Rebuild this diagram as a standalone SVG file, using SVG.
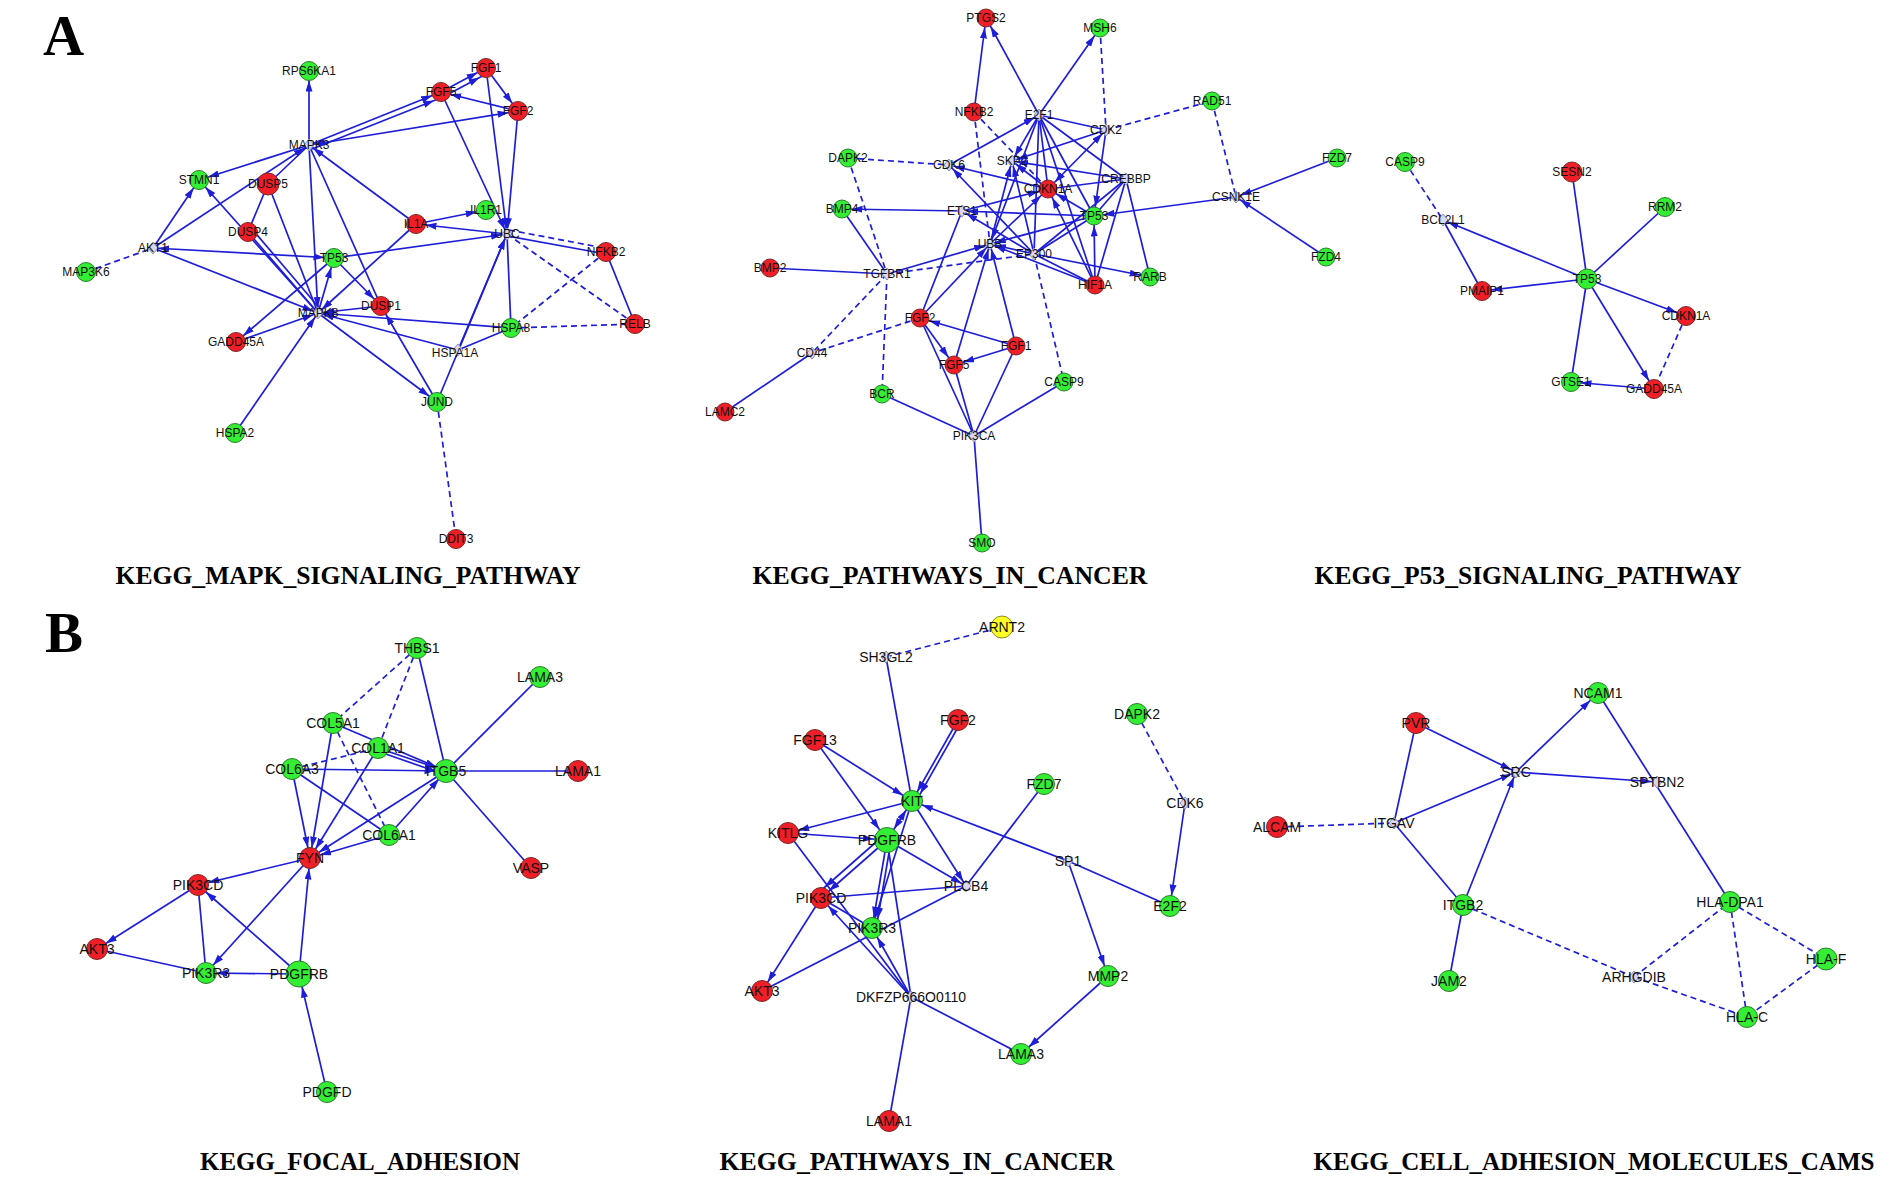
<svg xmlns="http://www.w3.org/2000/svg" xmlns:xlink="http://www.w3.org/1999/xlink" width="1890" height="1185" viewBox="0 0 1890 1185">
<style>
.s{stroke:#1e1ed8;stroke-width:1.7;fill:none}
.d{stroke:#1e1ed8;stroke-width:1.7;fill:none;stroke-dasharray:6 4}
.ac{marker-end:url(#ac)} .ad{marker-end:url(#ad)} .bc{marker-end:url(#bc)} .bb{marker-end:url(#bb)} .bd{marker-end:url(#ad)}
.sac{marker-start:url(#ac)} .sad{marker-start:url(#ad)} .sbc{marker-start:url(#bc)}
.r{fill:#f01e26;stroke:#7a2a2a;stroke-width:1}
.g{fill:#34ee34;stroke:#2d7d2d;stroke-width:1}
.y{fill:#ffff28;stroke:#8a8a20;stroke-width:1}
text{font-family:"Liberation Sans",Arial,sans-serif;fill:#111;text-anchor:middle}
.pa text{font-size:12px}
.pb text{font-size:14px}
.title{font-family:"Liberation Serif","Times New Roman",serif;font-weight:bold;font-size:25px;fill:#000}
.letter{font-family:"Liberation Serif","Times New Roman",serif;font-weight:bold;font-size:57px;fill:#000;text-anchor:start}
</style>
<defs>
<marker id="ac" markerUnits="userSpaceOnUse" markerWidth="40" markerHeight="8" refX="20.5" refY="3.5" orient="auto-start-reverse"><path d="M0,0 L11,3.5 L0,7 z" fill="#1e1ed8"/></marker>
<marker id="ad" markerUnits="userSpaceOnUse" markerWidth="40" markerHeight="8" refX="16" refY="3.5" orient="auto-start-reverse"><path d="M0,0 L11,3.5 L0,7 z" fill="#1e1ed8"/></marker>
<marker id="bc" markerUnits="userSpaceOnUse" markerWidth="40" markerHeight="8" refX="21.5" refY="3.5" orient="auto-start-reverse"><path d="M0,0 L11,3.5 L0,7 z" fill="#1e1ed8"/></marker>
<marker id="bb" markerUnits="userSpaceOnUse" markerWidth="40" markerHeight="8" refX="24" refY="3.5" orient="auto-start-reverse"><path d="M0,0 L11,3.5 L0,7 z" fill="#1e1ed8"/></marker>
<polygon id="dm" points="0,-6 5,0 0,6 -5,0" fill="#d8d8f0" stroke="#9090aa" stroke-width="1"/>
</defs>
<rect width="1890" height="1185" fill="#fff"/>
<text class="letter" x="43" y="55">A</text>
<text class="letter" x="45" y="652">B</text>

<g id="connectors">
<g id="edges-a1">
<line class="s ac" x1="309" y1="145" x2="309" y2="71"/>
<line class="s ac" x1="309" y1="145" x2="441" y2="92"/>
<line class="s ac" x1="312" y1="149" x2="443" y2="97"/>
<line class="s ac" x1="441" y1="92" x2="486" y2="68"/>
<line class="s ac" x1="443" y1="97" x2="488" y2="73"/>
<line class="s ac sad" x1="309" y1="145" x2="518" y2="111"/>
<line class="s ac" x1="486" y1="68" x2="518" y2="111"/>
<line class="s ac" x1="518" y1="111" x2="441" y2="92"/>
<line class="s ad" x1="441" y1="92" x2="507" y2="234"/>
<line class="s ad" x1="486" y1="68" x2="507" y2="234"/>
<line class="s ad" x1="518" y1="111" x2="507" y2="234"/>
<line class="s ac" x1="309" y1="145" x2="199" y2="180"/>
<line class="s ad" x1="153" y1="248" x2="309" y2="145"/>
<line class="s" x1="309" y1="145" x2="268" y2="184"/>
<line class="s" x1="268" y1="184" x2="248" y2="232"/>
<line class="s ad" x1="309" y1="145" x2="318" y2="313"/>
<line class="s" x1="309" y1="145" x2="381" y2="306"/>
<line class="s ad" x1="416" y1="224" x2="309" y2="145"/>
<line class="s ac" x1="416" y1="224" x2="486" y2="210"/>
<line class="s ac" x1="507" y1="234" x2="416" y2="224"/>
<line class="s ad" x1="416" y1="224" x2="318" y2="313"/>
<line class="s" x1="268" y1="184" x2="318" y2="313"/>
<line class="s" x1="248" y1="232" x2="318" y2="313"/>
<line class="s" x1="252" y1="229" x2="321" y2="310"/>
<line class="s ac" x1="318" y1="313" x2="199" y2="180"/>
<line class="s ac" x1="153" y1="248" x2="199" y2="180"/>
<line class="s ac sad" x1="153" y1="248" x2="334" y2="258"/>
<line class="s ad" x1="334" y1="258" x2="507" y2="234"/>
<line class="s ad" x1="153" y1="248" x2="318" y2="313"/>
<line class="d" x1="86" y1="272" x2="153" y2="248"/>
<line class="s ac" x1="318" y1="313" x2="334" y2="258"/>
<line class="s ac" x1="334" y1="258" x2="381" y2="306"/>
<line class="s ac" x1="334" y1="258" x2="236" y2="342"/>
<line class="s ad" x1="236" y1="342" x2="318" y2="313"/>
<line class="s ad" x1="381" y1="306" x2="318" y2="313"/>
<line class="s ad" x1="511" y1="328" x2="318" y2="313"/>
<line class="s ad" x1="458" y1="350" x2="318" y2="313"/>
<line class="s ac" x1="318" y1="313" x2="437" y2="402"/>
<line class="s ac" x1="437" y1="402" x2="381" y2="306"/>
<line class="s ad" x1="235" y1="433" x2="318" y2="313"/>
<line class="s ad" x1="437" y1="402" x2="507" y2="234"/>
<line class="s ad" x1="458" y1="350" x2="507" y2="234"/>
<line class="s" x1="458" y1="350" x2="511" y2="328"/>
<line class="s" x1="507" y1="234" x2="511" y2="328"/>
<line class="s" x1="507" y1="236" x2="606" y2="254"/>
<line class="d" x1="509" y1="230" x2="604" y2="248"/>
<line class="d" x1="507" y1="234" x2="635" y2="324"/>
<line class="d" x1="606" y1="252" x2="511" y2="328"/>
<line class="s" x1="606" y1="252" x2="635" y2="324"/>
<line class="d" x1="511" y1="328" x2="635" y2="324"/>
<line class="d" x1="437" y1="402" x2="456" y2="539"/>
</g>
<g id="edges-a2">
<line class="s ac" x1="974" y1="112" x2="986" y2="18"/>
<line class="s ac" x1="1039" y1="115" x2="986" y2="18"/>
<line class="s ac" x1="1039" y1="115" x2="1100" y2="28"/>
<line class="d" x1="1100" y1="28" x2="1106" y2="130"/>
<line class="d" x1="1106" y1="130" x2="1212" y2="101"/>
<line class="d" x1="1212" y1="101" x2="1236" y2="197"/>
<line class="s ad" x1="1337" y1="158" x2="1236" y2="197"/>
<line class="s ad" x1="1326" y1="257" x2="1236" y2="197"/>
<line class="s ac" x1="1236" y1="197" x2="1094" y2="216"/>
<line class="d" x1="974" y1="112" x2="1048" y2="189"/>
<line class="d" x1="974" y1="112" x2="990" y2="244"/>
<line class="d" x1="848" y1="158" x2="949" y2="165"/>
<line class="d" x1="848" y1="158" x2="887" y2="274"/>
<line class="s ad" x1="949" y1="165" x2="1039" y2="115"/>
<line class="s ad" x1="1039" y1="115" x2="1012" y2="161"/>
<line class="s" x1="1039" y1="115" x2="1106" y2="130"/>
<line class="s" x1="1039" y1="115" x2="1048" y2="189"/>
<line class="s" x1="1039" y1="115" x2="1094" y2="216"/>
<line class="s" x1="1039" y1="115" x2="1126" y2="179"/>
<line class="s" x1="1039" y1="115" x2="1034" y2="254"/>
<line class="s ad" x1="1039" y1="115" x2="990" y2="244"/>
<line class="s" x1="1039" y1="115" x2="1095" y2="285"/>
<line class="s ad" x1="1106" y1="130" x2="1012" y2="161"/>
<line class="s ad sac" x1="1048" y1="189" x2="1106" y2="130"/>
<line class="s ac" x1="1106" y1="130" x2="1094" y2="216"/>
<line class="s ad" x1="1126" y1="179" x2="1012" y2="161"/>
<line class="s" x1="1126" y1="179" x2="1048" y2="189"/>
<line class="s" x1="1126" y1="179" x2="1094" y2="216"/>
<line class="s" x1="1126" y1="179" x2="1034" y2="254"/>
<line class="s" x1="1126" y1="179" x2="1095" y2="285"/>
<line class="s" x1="1126" y1="179" x2="1150" y2="277"/>
<line class="s ad" x1="1048" y1="189" x2="949" y2="165"/>
<line class="s ad" x1="1048" y1="189" x2="1012" y2="161"/>
<line class="s ac" x1="1094" y1="216" x2="1048" y2="189"/>
<line class="s ad" x1="1094" y1="216" x2="962" y2="211"/>
<line class="s ac" x1="962" y1="211" x2="842" y2="209"/>
<line class="s ac" x1="962" y1="211" x2="1048" y2="189"/>
<line class="s ad" x1="1094" y1="216" x2="990" y2="244"/>
<line class="s" x1="1094" y1="216" x2="1034" y2="254"/>
<line class="s ac" x1="1095" y1="285" x2="1094" y2="216"/>
<line class="s ac" x1="1095" y1="285" x2="1048" y2="189"/>
<line class="s ad" x1="1095" y1="285" x2="990" y2="244"/>
<line class="s" x1="1095" y1="285" x2="1034" y2="254"/>
<line class="s ad" x1="1034" y1="254" x2="990" y2="244"/>
<line class="s ad" x1="1034" y1="254" x2="949" y2="165"/>
<line class="s ad" x1="1034" y1="254" x2="962" y2="211"/>
<line class="s ad" x1="1034" y1="254" x2="1012" y2="161"/>
<line class="s ac" x1="1034" y1="254" x2="1150" y2="277"/>
<line class="d" x1="887" y1="274" x2="1034" y2="254"/>
<line class="s ac" x1="990" y1="244" x2="1048" y2="189"/>
<line class="s ad" x1="990" y1="244" x2="1012" y2="161"/>
<line class="s ad" x1="887" y1="274" x2="990" y2="244"/>
<line class="s" x1="770" y1="268" x2="887" y2="274"/>
<line class="s" x1="842" y1="209" x2="887" y2="274"/>
<line class="d" x1="887" y1="274" x2="812" y2="353"/>
<line class="d" x1="887" y1="274" x2="882" y2="394"/>
<line class="d" x1="920" y1="318" x2="812" y2="353"/>
<line class="s" x1="812" y1="353" x2="725" y2="412"/>
<line class="s ad" x1="920" y1="318" x2="990" y2="244"/>
<line class="s" x1="920" y1="318" x2="962" y2="211"/>
<line class="s ac" x1="1016" y1="346" x2="920" y2="318"/>
<line class="s ac" x1="1016" y1="346" x2="954" y2="365"/>
<line class="s ac" x1="920" y1="318" x2="954" y2="365"/>
<line class="s ad" x1="954" y1="365" x2="990" y2="244"/>
<line class="s ad" x1="1016" y1="346" x2="990" y2="244"/>
<line class="s" x1="920" y1="318" x2="974" y2="436"/>
<line class="s" x1="954" y1="365" x2="974" y2="436"/>
<line class="s" x1="1016" y1="346" x2="974" y2="436"/>
<line class="s" x1="882" y1="394" x2="974" y2="436"/>
<line class="s" x1="1064" y1="382" x2="974" y2="436"/>
<line class="s" x1="974" y1="436" x2="982" y2="543"/>
<line class="d" x1="1034" y1="254" x2="1064" y2="382"/>
</g>
<g id="edges-a3">
<line class="d" x1="1405" y1="162" x2="1443" y2="220"/>
<line class="s" x1="1482" y1="291" x2="1443" y2="220"/>
<line class="s ad" x1="1587" y1="279" x2="1443" y2="220"/>
<line class="s ac" x1="1587" y1="279" x2="1482" y2="291"/>
<line class="s" x1="1572" y1="172" x2="1587" y2="279"/>
<line class="s" x1="1665" y1="207" x2="1587" y2="279"/>
<line class="s ac" x1="1587" y1="279" x2="1686" y2="316"/>
<line class="s ac" x1="1587" y1="279" x2="1654" y2="389"/>
<line class="s" x1="1587" y1="279" x2="1571" y2="382"/>
<line class="s ac" x1="1654" y1="389" x2="1571" y2="382"/>
<line class="d" x1="1686" y1="316" x2="1654" y2="389"/>
</g>
<g id="edges-b1">
<line class="d" x1="417" y1="648" x2="333" y2="723"/>
<line class="d" x1="417" y1="648" x2="378" y2="748"/>
<line class="s" x1="417" y1="648" x2="446" y2="771"/>
<line class="s bc" x1="333" y1="723" x2="446" y2="771"/>
<line class="s bc" x1="378" y1="748" x2="446" y2="771"/>
<line class="s bc" x1="380" y1="752" x2="446" y2="775"/>
<line class="s bc" x1="292" y1="769" x2="446" y2="771"/>
<line class="d" x1="292" y1="769" x2="378" y2="748"/>
<line class="d" x1="333" y1="723" x2="389" y2="835"/>
<line class="s" x1="292" y1="769" x2="389" y2="835"/>
<line class="s bc" x1="333" y1="723" x2="310" y2="858"/>
<line class="s bc" x1="378" y1="748" x2="310" y2="858"/>
<line class="s bc" x1="292" y1="769" x2="310" y2="858"/>
<line class="s bc" x1="389" y1="835" x2="310" y2="858"/>
<line class="s bc" x1="446" y1="771" x2="310" y2="858"/>
<line class="s bc" x1="389" y1="835" x2="446" y2="771"/>
<line class="s" x1="446" y1="771" x2="540" y2="677"/>
<line class="s" x1="446" y1="771" x2="578" y2="771"/>
<line class="s" x1="446" y1="771" x2="531" y2="868"/>
<line class="s bc" x1="310" y1="858" x2="198" y2="885"/>
<line class="s bc" x1="310" y1="858" x2="206" y2="973"/>
<line class="s bc" x1="299" y1="974" x2="310" y2="858"/>
<line class="s bc" x1="198" y1="885" x2="97" y2="949"/>
<line class="s" x1="198" y1="885" x2="206" y2="973"/>
<line class="s" x1="97" y1="949" x2="206" y2="973"/>
<line class="s bc" x1="299" y1="974" x2="206" y2="973"/>
<line class="s bc" x1="299" y1="974" x2="198" y2="885"/>
<line class="s bb" x1="327" y1="1092" x2="299" y2="974"/>
</g>
<g id="edges-b2">
<line class="d" x1="886" y1="657" x2="1002" y2="627"/>
<line class="s" x1="886" y1="657" x2="912" y2="801"/>
<line class="s bc" x1="958" y1="720" x2="912" y2="801"/>
<line class="s bc" x1="961" y1="722" x2="915" y2="803"/>
<line class="s bc" x1="815" y1="740" x2="912" y2="801"/>
<line class="s bb" x1="815" y1="740" x2="887" y2="840"/>
<line class="s bc" x1="912" y1="801" x2="788" y2="833"/>
<line class="s bb" x1="788" y1="833" x2="887" y2="840"/>
<line class="s" x1="788" y1="833" x2="911" y2="997"/>
<line class="s bd" x1="912" y1="801" x2="966" y2="886"/>
<line class="s bd" x1="887" y1="840" x2="966" y2="886"/>
<line class="s bb sbc" x1="912" y1="801" x2="887" y2="840"/>
<line class="s bc" x1="887" y1="840" x2="821" y2="898"/>
<line class="s bc" x1="883" y1="836" x2="817" y2="894"/>
<line class="s bc" x1="887" y1="840" x2="872" y2="928"/>
<line class="s bc" x1="891" y1="841" x2="876" y2="929"/>
<line class="s bc" x1="912" y1="801" x2="872" y2="928"/>
<line class="s bc" x1="1068" y1="861" x2="912" y2="801"/>
<line class="s" x1="1068" y1="861" x2="1170" y2="906"/>
<line class="s bc" x1="1068" y1="861" x2="1108" y2="976"/>
<line class="s" x1="1044" y1="784" x2="966" y2="886"/>
<line class="s" x1="966" y1="886" x2="821" y2="898"/>
<line class="s" x1="966" y1="886" x2="762" y2="991"/>
<line class="d" x1="1137" y1="714" x2="1185" y2="803"/>
<line class="s bc" x1="1185" y1="803" x2="1170" y2="906"/>
<line class="s bc" x1="821" y1="898" x2="762" y2="991"/>
<line class="s" x1="821" y1="898" x2="872" y2="928"/>
<line class="s bc" x1="911" y1="997" x2="821" y2="898"/>
<line class="s bc" x1="911" y1="997" x2="872" y2="928"/>
<line class="s" x1="911" y1="997" x2="889" y2="1121"/>
<line class="s" x1="911" y1="997" x2="1021" y2="1054"/>
<line class="s" x1="911" y1="997" x2="887" y2="840"/>
<line class="s bc" x1="1108" y1="976" x2="1021" y2="1054"/>
</g>
<g id="edges-b3">
<line class="s bd" x1="1416" y1="723" x2="1516" y2="772"/>
<line class="s" x1="1416" y1="723" x2="1394" y2="823"/>
<line class="s bd" x1="1394" y1="823" x2="1516" y2="772"/>
<line class="d" x1="1394" y1="823" x2="1277" y2="827"/>
<line class="s" x1="1394" y1="823" x2="1463" y2="905"/>
<line class="s bd" x1="1463" y1="905" x2="1516" y2="772"/>
<line class="s" x1="1463" y1="905" x2="1449" y2="981"/>
<line class="s bc" x1="1516" y1="772" x2="1598" y2="693"/>
<line class="s bd" x1="1516" y1="772" x2="1657" y2="782"/>
<line class="s" x1="1598" y1="693" x2="1730" y2="902"/>
<line class="d" x1="1463" y1="905" x2="1634" y2="977"/>
<line class="d" x1="1634" y1="977" x2="1730" y2="902"/>
<line class="d" x1="1634" y1="977" x2="1747" y2="1017"/>
<line class="d" x1="1730" y1="902" x2="1747" y2="1017"/>
<line class="d" x1="1730" y1="902" x2="1826" y2="959"/>
<line class="d" x1="1826" y1="959" x2="1747" y2="1017"/>
</g>
</g>

<g id="panel-a1" class="pa">
<g id="a1-RPS6KA1"><circle class="g" cx="309" cy="71" r="9.5"/><text x="309" y="75">RPS6KA1</text></g>
<g id="a1-FGF1"><circle class="r" cx="486" cy="68" r="9.5"/><text x="486" y="72">FGF1</text></g>
<g id="a1-FGF5"><circle class="r" cx="441" cy="92" r="9.5"/><text x="441" y="96">FGF5</text></g>
<g id="a1-FGF2"><circle class="r" cx="518" cy="111" r="9.5"/><text x="518" y="115">FGF2</text></g>
<g id="a1-MAPK3"><use href="#dm" x="309" y="145"/><text x="309" y="149">MAPK3</text></g>
<g id="a1-STMN1"><circle class="g" cx="199" cy="180" r="9.5"/><text x="199" y="184">STMN1</text></g>
<g id="a1-DUSP5"><circle class="r" cx="268" cy="184" r="11"/><text x="268" y="188">DUSP5</text></g>
<g id="a1-IL1R1"><circle class="g" cx="486" cy="210" r="9.5"/><text x="486" y="214">IL1R1</text></g>
<g id="a1-IL1A"><circle class="r" cx="416" cy="224" r="9.5"/><text x="416" y="228">IL1A</text></g>
<g id="a1-DUSP4"><circle class="r" cx="248" cy="232" r="9.5"/><text x="248" y="236">DUSP4</text></g>
<g id="a1-UBC"><use href="#dm" x="507" y="234"/><text x="507" y="238">UBC</text></g>
<g id="a1-AKT1"><use href="#dm" x="153" y="248"/><text x="153" y="252">AKT1</text></g>
<g id="a1-NFKB2"><circle class="r" cx="606" cy="252" r="9.5"/><text x="606" y="256">NFKB2</text></g>
<g id="a1-TP53"><circle class="g" cx="334" cy="258" r="9.5"/><text x="334" y="262">TP53</text></g>
<g id="a1-MAP3K6"><circle class="g" cx="86" cy="272" r="9.5"/><text x="86" y="276">MAP3K6</text></g>
<g id="a1-MAPK8"><use href="#dm" x="318" y="313"/><text x="318" y="317">MAPK8</text></g>
<g id="a1-DUSP1"><circle class="r" cx="381" cy="306" r="9.5"/><text x="381" y="310">DUSP1</text></g>
<g id="a1-HSPA8"><circle class="g" cx="511" cy="328" r="9.5"/><text x="511" y="332">HSPA8</text></g>
<g id="a1-RELB"><circle class="r" cx="635" cy="324" r="9.5"/><text x="635" y="328">RELB</text></g>
<g id="a1-GADD45A"><circle class="r" cx="236" cy="342" r="9.5"/><text x="236" y="346">GADD45A</text></g>
<g id="a1-HSPA1A"><use href="#dm" x="458" y="350"/><text x="455" y="357">HSPA1A</text></g>
<g id="a1-JUND"><circle class="g" cx="437" cy="402" r="9.5"/><text x="437" y="406">JUND</text></g>
<g id="a1-HSPA2"><circle class="g" cx="235" cy="433" r="9.5"/><text x="235" y="437">HSPA2</text></g>
<g id="a1-DDIT3"><circle class="r" cx="456" cy="539" r="9.5"/><text x="456" y="543">DDIT3</text></g>
</g>

<g id="panel-a2" class="pa">
<g id="a2-PTGS2"><circle class="r" cx="986" cy="18" r="9"/><text x="986" y="22">PTGS2</text></g>
<g id="a2-MSH6"><circle class="g" cx="1100" cy="28" r="9"/><text x="1100" y="32">MSH6</text></g>
<g id="a2-RAD51"><circle class="g" cx="1212" cy="101" r="9"/><text x="1212" y="105">RAD51</text></g>
<g id="a2-NFKB2"><circle class="r" cx="974" cy="112" r="9"/><text x="974" y="116">NFKB2</text></g>
<g id="a2-E2F1"><use href="#dm" x="1039" y="115"/><text x="1039" y="119">E2F1</text></g>
<g id="a2-CDK2"><use href="#dm" x="1106" y="130"/><text x="1106" y="134">CDK2</text></g>
<g id="a2-DAPK2"><circle class="g" cx="848" cy="158" r="9"/><text x="848" y="162">DAPK2</text></g>
<g id="a2-CDK6"><use href="#dm" x="949" y="165"/><text x="949" y="169">CDK6</text></g>
<g id="a2-SKP2"><use href="#dm" x="1012" y="161"/><text x="1012" y="165">SKP2</text></g>
<g id="a2-CREBBP"><use href="#dm" x="1126" y="179"/><text x="1126" y="183">CREBBP</text></g>
<g id="a2-CDKN1A"><circle class="r" cx="1048" cy="189" r="9"/><text x="1048" y="193">CDKN1A</text></g>
<g id="a2-CSNK1E"><use href="#dm" x="1236" y="197"/><text x="1236" y="201">CSNK1E</text></g>
<g id="a2-FZD7"><circle class="g" cx="1337" cy="158" r="9"/><text x="1337" y="162">FZD7</text></g>
<g id="a2-BMP4"><circle class="g" cx="842" cy="209" r="9"/><text x="842" y="213">BMP4</text></g>
<g id="a2-ETS1"><use href="#dm" x="962" y="211"/><text x="962" y="215">ETS1</text></g>
<g id="a2-TP53"><circle class="g" cx="1094" cy="216" r="9"/><text x="1094" y="220">TP53</text></g>
<g id="a2-UBB"><use href="#dm" x="990" y="244"/><text x="990" y="248">UBB</text></g>
<g id="a2-EP300"><use href="#dm" x="1034" y="254"/><text x="1034" y="258">EP300</text></g>
<g id="a2-FZD4"><circle class="g" cx="1326" cy="257" r="9"/><text x="1326" y="261">FZD4</text></g>
<g id="a2-BMP2"><circle class="r" cx="770" cy="268" r="9"/><text x="770" y="272">BMP2</text></g>
<g id="a2-TGFBR1"><use href="#dm" x="887" y="274"/><text x="887" y="278">TGFBR1</text></g>
<g id="a2-HIF1A"><circle class="r" cx="1095" cy="285" r="9"/><text x="1095" y="289">HIF1A</text></g>
<g id="a2-RARB"><circle class="g" cx="1150" cy="277" r="9"/><text x="1150" y="281">RARB</text></g>
<g id="a2-FGF2"><circle class="r" cx="920" cy="318" r="9"/><text x="920" y="322">FGF2</text></g>
<g id="a2-CD44"><use href="#dm" x="812" y="353"/><text x="812" y="357">CD44</text></g>
<g id="a2-FGF1"><circle class="r" cx="1016" cy="346" r="9"/><text x="1016" y="350">FGF1</text></g>
<g id="a2-FGF5"><circle class="r" cx="954" cy="365" r="9"/><text x="954" y="369">FGF5</text></g>
<g id="a2-CASP9"><circle class="g" cx="1064" cy="382" r="9"/><text x="1064" y="386">CASP9</text></g>
<g id="a2-BCR"><circle class="g" cx="882" cy="394" r="9"/><text x="882" y="398">BCR</text></g>
<g id="a2-LAMC2"><circle class="r" cx="725" cy="412" r="9"/><text x="725" y="416">LAMC2</text></g>
<g id="a2-PIK3CA"><use href="#dm" x="974" y="436"/><text x="974" y="440">PIK3CA</text></g>
<g id="a2-SMO"><circle class="g" cx="982" cy="543" r="9"/><text x="982" y="547">SMO</text></g>
</g>

<g id="panel-a3" class="pa">
<g id="a3-CASP9"><circle class="g" cx="1405" cy="162" r="9.5"/><text x="1405" y="166">CASP9</text></g>
<g id="a3-SESN2"><circle class="r" cx="1572" cy="172" r="10"/><text x="1572" y="176">SESN2</text></g>
<g id="a3-RRM2"><circle class="g" cx="1665" cy="207" r="9.5"/><text x="1665" y="211">RRM2</text></g>
<g id="a3-BCL2L1"><use href="#dm" x="1443" y="220"/><text x="1443" y="224">BCL2L1</text></g>
<g id="a3-TP53"><circle class="g" cx="1587" cy="279" r="10"/><text x="1587" y="283">TP53</text></g>
<g id="a3-PMAIP1"><circle class="r" cx="1482" cy="291" r="9.5"/><text x="1482" y="295">PMAIP1</text></g>
<g id="a3-CDKN1A"><circle class="r" cx="1686" cy="316" r="9.5"/><text x="1686" y="320">CDKN1A</text></g>
<g id="a3-GTSE1"><circle class="g" cx="1571" cy="382" r="9.5"/><text x="1571" y="386">GTSE1</text></g>
<g id="a3-GADD45A"><circle class="r" cx="1654" cy="389" r="9.5"/><text x="1654" y="393">GADD45A</text></g>
</g>

<g id="panel-b1" class="pb">
<g id="b1-THBS1"><circle class="g" cx="417" cy="648" r="10.5"/><text x="417" y="653">THBS1</text></g>
<g id="b1-LAMA3"><circle class="g" cx="540" cy="677" r="10.5"/><text x="540" y="682">LAMA3</text></g>
<g id="b1-COL5A1"><circle class="g" cx="333" cy="723" r="10.5"/><text x="333" y="728">COL5A1</text></g>
<g id="b1-COL1A1"><circle class="g" cx="378" cy="748" r="10.5"/><text x="378" y="753">COL1A1</text></g>
<g id="b1-COL6A3"><circle class="g" cx="292" cy="769" r="10.5"/><text x="292" y="774">COL6A3</text></g>
<g id="b1-ITGB5"><circle class="g" cx="446" cy="771" r="11.5"/><text x="446" y="776">ITGB5</text></g>
<g id="b1-LAMA1"><circle class="r" cx="578" cy="771" r="10.5"/><text x="578" y="776">LAMA1</text></g>
<g id="b1-COL6A1"><circle class="g" cx="389" cy="835" r="10.5"/><text x="389" y="840">COL6A1</text></g>
<g id="b1-FYN"><circle class="r" cx="310" cy="858" r="10.5"/><text x="310" y="863">FYN</text></g>
<g id="b1-VASP"><circle class="r" cx="531" cy="868" r="10.5"/><text x="531" y="873">VASP</text></g>
<g id="b1-PIK3CD"><circle class="r" cx="198" cy="885" r="10.5"/><text x="198" y="890">PIK3CD</text></g>
<g id="b1-AKT3"><circle class="r" cx="97" cy="949" r="10.5"/><text x="97" y="954">AKT3</text></g>
<g id="b1-PIK3R3"><circle class="g" cx="206" cy="973" r="10.5"/><text x="206" y="978">PIK3R3</text></g>
<g id="b1-PDGFRB"><circle class="g" cx="299" cy="974" r="13"/><text x="299" y="979">PDGFRB</text></g>
<g id="b1-PDGFD"><circle class="g" cx="327" cy="1092" r="10.5"/><text x="327" y="1097">PDGFD</text></g>
</g>

<g id="panel-b2" class="pb">
<g id="b2-ARNT2"><circle class="y" cx="1002" cy="627" r="11"/><text x="1002" y="632">ARNT2</text></g>
<g id="b2-SH3GL2"><use href="#dm" x="886" y="657"/><text x="886" y="662">SH3GL2</text></g>
<g id="b2-FGF2"><circle class="r" cx="958" cy="720" r="10.5"/><text x="958" y="725">FGF2</text></g>
<g id="b2-FGF13"><circle class="r" cx="815" cy="740" r="10.5"/><text x="815" y="745">FGF13</text></g>
<g id="b2-DAPK2"><circle class="g" cx="1137" cy="714" r="10.5"/><text x="1137" y="719">DAPK2</text></g>
<g id="b2-FZD7"><circle class="g" cx="1044" cy="784" r="10.5"/><text x="1044" y="789">FZD7</text></g>
<g id="b2-KIT"><circle class="g" cx="912" cy="801" r="10.5"/><text x="912" y="806">KIT</text></g>
<g id="b2-CDK6"><use href="#dm" x="1185" y="803"/><text x="1185" y="808">CDK6</text></g>
<g id="b2-KITLG"><circle class="r" cx="788" cy="833" r="10.5"/><text x="788" y="838">KITLG</text></g>
<g id="b2-PDGFRB"><circle class="g" cx="887" cy="840" r="12.5"/><text x="887" y="845">PDGFRB</text></g>
<g id="b2-SP1"><use href="#dm" x="1068" y="861"/><text x="1068" y="866">SP1</text></g>
<g id="b2-PLCB4"><use href="#dm" x="966" y="886"/><text x="966" y="891">PLCB4</text></g>
<g id="b2-PIK3CD"><circle class="r" cx="821" cy="898" r="10.5"/><text x="821" y="903">PIK3CD</text></g>
<g id="b2-E2F2"><circle class="g" cx="1170" cy="906" r="10.5"/><text x="1170" y="911">E2F2</text></g>
<g id="b2-PIK3R3"><circle class="g" cx="872" cy="928" r="10.5"/><text x="872" y="933">PIK3R3</text></g>
<g id="b2-MMP2"><circle class="g" cx="1108" cy="976" r="10.5"/><text x="1108" y="981">MMP2</text></g>
<g id="b2-AKT3"><circle class="r" cx="762" cy="991" r="10.5"/><text x="762" y="996">AKT3</text></g>
<g id="b2-DKFZP666O0110"><use href="#dm" x="911" y="997"/><text x="911" y="1002">DKFZP666O0110</text></g>
<g id="b2-LAMA3"><circle class="g" cx="1021" cy="1054" r="10.5"/><text x="1021" y="1059">LAMA3</text></g>
<g id="b2-LAMA1"><circle class="r" cx="889" cy="1121" r="10.5"/><text x="889" y="1126">LAMA1</text></g>
</g>

<g id="panel-b3" class="pb">
<g id="b3-NCAM1"><circle class="g" cx="1598" cy="693" r="10.5"/><text x="1598" y="698">NCAM1</text></g>
<g id="b3-PVR"><circle class="r" cx="1416" cy="723" r="10.5"/><text x="1416" y="728">PVR</text></g>
<g id="b3-SRC"><use href="#dm" x="1516" y="772"/><text x="1516" y="777">SRC</text></g>
<g id="b3-SPTBN2"><use href="#dm" x="1657" y="782"/><text x="1657" y="787">SPTBN2</text></g>
<g id="b3-ALCAM"><circle class="r" cx="1277" cy="827" r="10.5"/><text x="1277" y="832">ALCAM</text></g>
<g id="b3-ITGAV"><use href="#dm" x="1394" y="823"/><text x="1394" y="828">ITGAV</text></g>
<g id="b3-ITGB2"><circle class="g" cx="1463" cy="905" r="10.5"/><text x="1463" y="910">ITGB2</text></g>
<g id="b3-HLA-DPA1"><circle class="g" cx="1730" cy="902" r="10.5"/><text x="1730" y="907">HLA-DPA1</text></g>
<g id="b3-HLA-F"><circle class="g" cx="1826" cy="959" r="11"/><text x="1826" y="964">HLA-F</text></g>
<g id="b3-ARHGDIB"><use href="#dm" x="1634" y="977"/><text x="1634" y="982">ARHGDIB</text></g>
<g id="b3-JAM2"><circle class="g" cx="1449" cy="981" r="10.5"/><text x="1449" y="986">JAM2</text></g>
<g id="b3-HLA-C"><circle class="g" cx="1747" cy="1017" r="10.5"/><text x="1747" y="1022">HLA-C</text></g>
</g>

<g id="titles">
<text class="title" x="348" y="584" textLength="465" lengthAdjust="spacingAndGlyphs">KEGG_MAPK_SIGNALING_PATHWAY</text>
<text class="title" x="950" y="584" textLength="395" lengthAdjust="spacingAndGlyphs">KEGG_PATHWAYS_IN_CANCER</text>
<text class="title" x="1528" y="584" textLength="427" lengthAdjust="spacingAndGlyphs">KEGG_P53_SIGNALING_PATHWAY</text>
<text class="title" x="360" y="1170" textLength="320" lengthAdjust="spacingAndGlyphs">KEGG_FOCAL_ADHESION</text>
<text class="title" x="917" y="1170" textLength="395" lengthAdjust="spacingAndGlyphs">KEGG_PATHWAYS_IN_CANCER</text>
<text class="title" x="1594" y="1170" textLength="561" lengthAdjust="spacingAndGlyphs">KEGG_CELL_ADHESION_MOLECULES_CAMS</text>
</g>
</svg>
